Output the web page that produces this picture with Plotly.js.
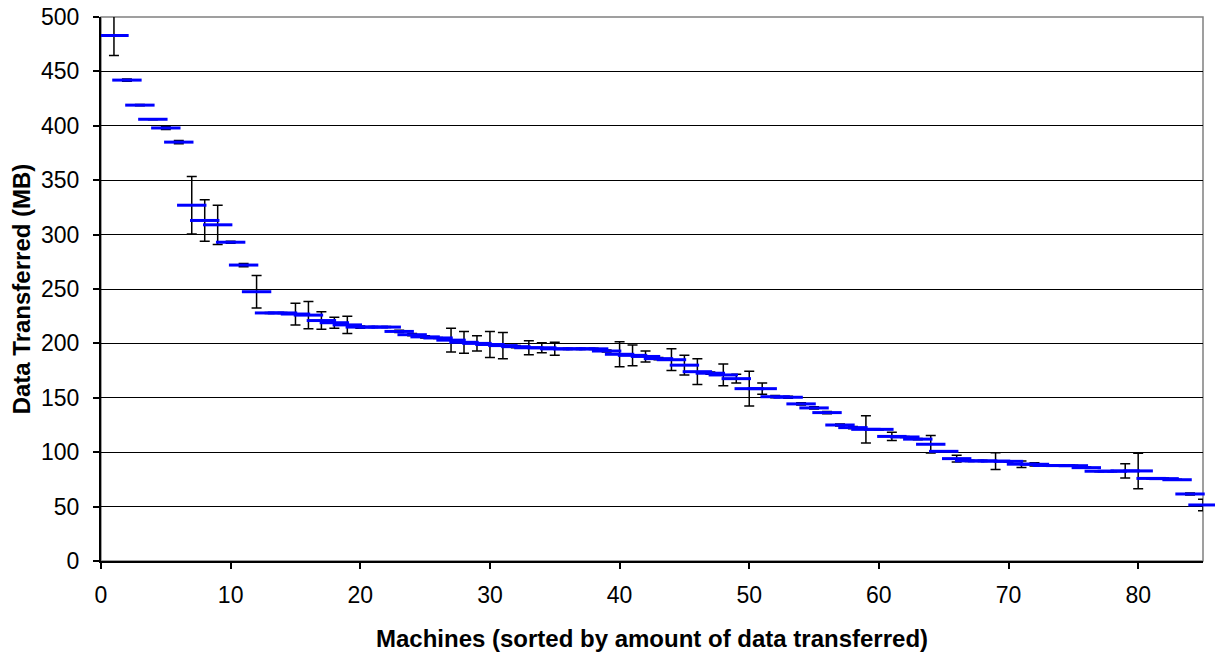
<!DOCTYPE html>
<html>
<head>
<meta charset="utf-8">
<script src="https://cdn.plot.ly/plotly-3.0.1.min.js"></script>
<style>
  html, body { margin: 0; padding: 0; background: #ffffff; }
  #chart { width: 1215px; height: 653px; }
</style>
</head>
<body>
<div id="chart"></div>
<script>
// Machine rank (sorted by amount of data transferred)
const machines = [
  1, 2, 3, 4, 5, 6, 7, 8, 9, 10,
  11, 12, 13, 14, 15, 16, 17, 18, 19, 20,
  21, 22, 23, 24, 25, 26, 27, 28, 29, 30,
  31, 32, 33, 34, 35, 36, 37, 38, 39, 40,
  41, 42, 43, 44, 45, 46, 47, 48, 49, 50,
  51, 52, 53, 54, 55, 56, 57, 58, 59, 60,
  61, 62, 63, 64, 65, 66, 67, 68, 69, 70,
  71, 72, 73, 74, 75, 76, 77, 78, 79, 80,
  81, 82, 83, 84, 85
];

// Mean data transferred (MB)
const dataMB = [
  483, 442, 419, 406, 398, 385, 327, 313, 309, 293,
  272, 247.5, 228, 228, 227, 226, 221, 219, 217, 215,
  215, 215, 211, 208, 206, 205, 203, 201, 200, 199,
  198, 197, 196, 196, 195, 195, 195, 195, 193, 190,
  189, 188, 186, 185, 180, 174, 172.6, 171, 167.6, 158.4,
  158.4, 151, 150.5, 144.4, 140.7, 136.4, 125, 122.6, 121, 121,
  114.5, 114, 112, 107.3, 100.8, 94.1, 92, 92, 91.8, 91.6,
  89, 88.9, 87.8, 87.7, 87.6, 85.8, 82.5, 82.5, 82.8, 82.8,
  75.9, 75.7, 74.7, 61.6, 51.5
];

// Error (MB, symmetric)
const errMB = [
  18.5, 1, 0.5, 0.5, 1.5, 1.5, 26.5, 19, 18, 1,
  1.5, 15, 0.5, 0.5, 10, 12.5, 8, 5, 8, 1,
  0.5, 0.5, 1, 1, 1, 0.5, 11, 10, 7, 12,
  12, 1, 6.5, 4.5, 6, 0.5, 0.5, 0.5, 1, 11.5,
  9.5, 5, 1, 10, 9, 11.8, 1, 10, 4, 16,
  5.2, 1, 1, 1, 1, 1, 1, 1, 12.5, 0.5,
  3.8, 0.5, 0.5, 8.1, 0.5, 3.2, 0.5, 0.5, 7.8, 0.5,
  3, 1.5, 0.5, 0.5, 0.5, 0.5, 0.5, 0.5, 6.6, 16.3,
  0.5, 0.5, 0.5, 1, 5.3
];

const xTicks = [0, 10, 20, 30, 40, 50, 60, 70, 80];
const yTicks = [0, 50, 100, 150, 200, 250, 300, 350, 400, 450, 500];

const FONT = '"Liberation Sans", Arial, Helvetica, sans-serif';

const trace = {
  type: 'scatter',
  mode: 'markers',
  x: machines,
  y: dataMB,
  cliponaxis: false,
  marker: {
    symbol: 'line-ew',
    size: 21,
    color: '#0000FF',
    line: { color: '#0000FF', width: 3 }
  },
  error_y: {
    type: 'data',
    array: errMB,
    visible: true,
    color: '#000000',
    thickness: 1.5,
    width: 5
  },
  hoverinfo: 'x+y'
};

const layout = {
  width: 1215,
  height: 653,
  margin: { l: 101, r: 12, t: 17, b: 92, pad: 0 },
  paper_bgcolor: '#ffffff',
  plot_bgcolor: '#ffffff',
  showlegend: false,
  font: { family: FONT, size: 23, color: '#000000' },
  xaxis: {
    range: [0, 85],
    tickmode: 'array',
    tickvals: xTicks,
    ticktext: xTicks.map(String),
    ticks: 'outside',
    ticklen: 6,
    tickwidth: 2,
    tickcolor: '#000000',
    ticklabelstandoff: 6,
    showline: true,
    linecolor: '#000000',
    linewidth: 2,
    showgrid: false,
    zeroline: false,
    automargin: false,
    tickfont: { family: FONT, size: 23, color: '#000000' },
    title: {
      text: '<b>Machines (sorted by amount of data transferred)</b>',
      font: { family: FONT, size: 24, color: '#000000' },
      standoff: 24
    }
  },
  yaxis: {
    range: [0, 500],
    tickmode: 'array',
    tickvals: yTicks,
    ticktext: yTicks.map(String),
    ticks: 'outside',
    ticklen: 6,
    tickwidth: 2,
    tickcolor: '#000000',
    ticklabelstandoff: 9,
    showline: true,
    linecolor: '#000000',
    linewidth: 2,
    showgrid: true,
    gridcolor: '#000000',
    gridwidth: 1,
    zeroline: false,
    automargin: false,
    tickfont: { family: FONT, size: 23, color: '#000000' },
    title: {
      text: '<b>Data Transferred (MB)</b>',
      font: { family: FONT, size: 24, color: '#000000' },
      standoff: 4
    }
  },
  shapes: [{
    type: 'rect',
    xref: 'paper', yref: 'paper',
    x0: 0, x1: 1, y0: 0, y1: 1,
    line: { color: '#808080', width: 1.5 },
    layer: 'below'
  }]
};

Plotly.newPlot('chart', [trace], layout, { displayModeBar: false, staticPlot: true });
</script>
</body>
</html>
